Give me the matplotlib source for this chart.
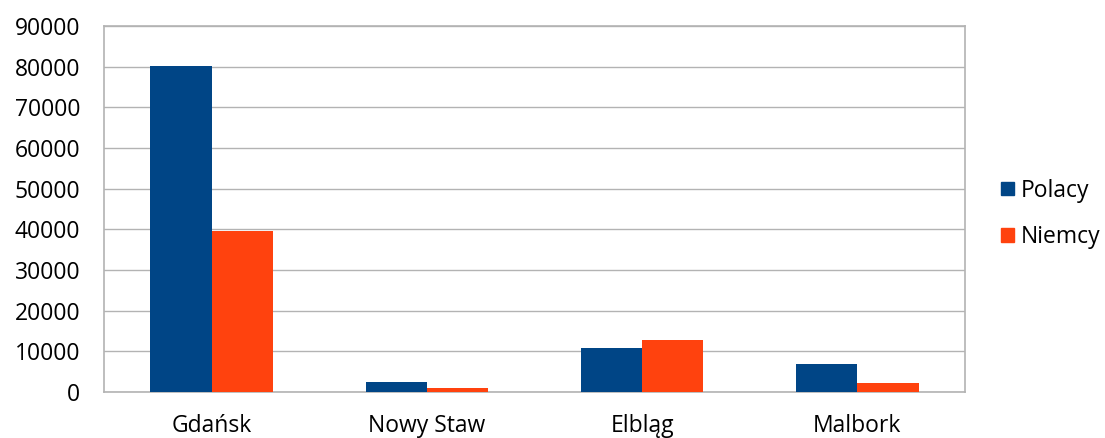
import matplotlib.pyplot as plt
import numpy as np
from matplotlib.patches import Patch

# dane z wykresu
cities = ["Gdańsk", "Nowy Staw", "Elbląg", "Malbork"]
polacy = [80100, 2400, 10800, 6800]
niemcy = [39500, 900, 12700, 2300]

blue = '#004586'
orange = '#ff420e'
grid = '#b3b3b3'

plt.rcParams['font.family'] = ['Open Sans', 'DejaVu Sans']

fig = plt.figure(figsize=(11.05, 4.38), dpi=100)
ax = fig.add_axes([104/1105, 46/438, 861/1105, 366/438])

x = np.arange(len(cities))
w = 0.285
ax.bar(x - w/2, polacy, w, color=blue, zorder=3)
ax.bar(x + w/2, niemcy, w, color=orange, zorder=3)

ax.set_xlim(-0.5, len(cities) - 0.5)
ax.set_ylim(0, 90000)
ax.set_yticks(range(0, 90001, 10000))
ax.set_xticks(x)
ax.set_xticklabels(cities)
ax.yaxis.grid(True, color=grid, lw=1, zorder=0)
ax.tick_params(length=0, labelsize=16.5, colors='black')
ax.tick_params(axis='y', pad=17)
ax.tick_params(axis='x', pad=16)
for s in ax.spines.values():
    s.set_color(grid)
    s.set_linewidth(1.2)

handles = [Patch(color=blue, label='Polacy'), Patch(color=orange, label='Niemcy')]
fig.legend(handles=handles, loc='center left', bbox_to_anchor=(1001/1105, 224/438),
           frameon=False, fontsize=16.5, handlelength=0.55, handleheight=0.55,
           handletextpad=0.3, labelspacing=1.0, borderaxespad=0, borderpad=0)

fig.savefig('out.png', dpi=100)
